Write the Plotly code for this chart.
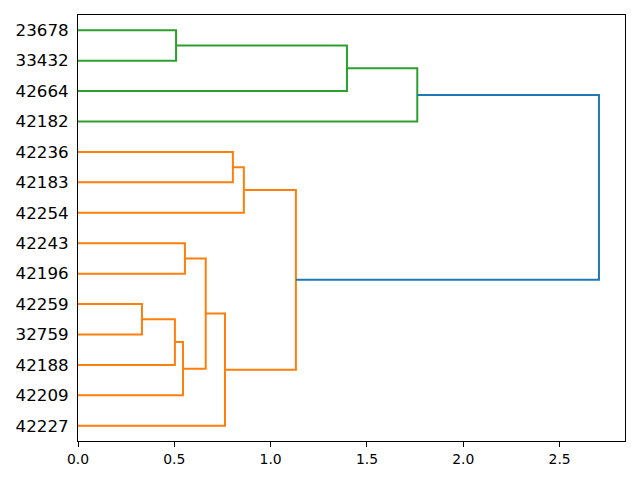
import plotly.graph_objects as go

# Leaf labels, top to bottom
leaf_labels = ["23678", "33432", "42664", "42182", "42236", "42183", "42254",
               "42243", "42196", "42259", "32759", "42188", "42209", "42227"]

# Merge list: children (leaf index or previous merge id = n_leaves + k), height, color
merge_left = [9, 14, 0, 15, 7, 18, 19, 4, 21, 22, 16, 24, 25]
merge_right = [10, 11, 1, 12, 8, 17, 13, 5, 6, 20, 2, 3, 23]
merge_height = [0.332, 0.503, 0.509, 0.545, 0.555, 0.663, 0.763,
                0.804, 0.861, 1.131, 1.396, 1.761, 2.704]
merge_color = ["#ff7f0e", "#ff7f0e", "#2ca02c", "#ff7f0e", "#ff7f0e", "#ff7f0e", "#ff7f0e",
               "#ff7f0e", "#ff7f0e", "#ff7f0e", "#2ca02c", "#2ca02c", "#1f77b4"]

x_ticks = [0.0, 0.5, 1.0, 1.5, 2.0, 2.5]

n = len(leaf_labels)
pos = {}
hgt = {}
for i in range(n):
    pos[i] = 10 * (n - 1 - i) + 5
    hgt[i] = 0.0

fig = go.Figure()
for k, (a, b, h, c) in enumerate(zip(merge_left, merge_right, merge_height, merge_color)):
    node = n + k
    xs = [hgt[a], h, h, hgt[b]]
    ys = [pos[a], pos[a], pos[b], pos[b]]
    fig.add_trace(go.Scatter(x=xs, y=ys, mode="lines",
                             line=dict(color=c, width=2),
                             hoverinfo="skip", showlegend=False))
    pos[node] = (pos[a] + pos[b]) / 2
    hgt[node] = h

xmax = max(merge_height) * 1.05

fig.update_layout(
    width=632, height=472,
    margin=dict(l=70, r=15, t=7, b=39),
    plot_bgcolor="white", paper_bgcolor="white",
    font=dict(family="DejaVu Sans", color="black"),
    showlegend=False,
)
fig.update_xaxes(
    range=[0, xmax], showgrid=False, zeroline=False, automargin=False,
    showline=True, linecolor="black", linewidth=1, mirror=True,
    ticks="outside", ticklen=5, tickwidth=1, tickcolor="black",
    tickvals=x_ticks, ticktext=[f"{v:.1f}" for v in x_ticks],
    tickfont=dict(size=13.9, family="DejaVu Sans", color="black"),
)
fig.update_yaxes(
    range=[0, 10 * n], showgrid=False, zeroline=False, automargin=False,
    showline=True, linecolor="black", linewidth=1, mirror=True,
    ticks="outside", ticklen=5, tickcolor="rgba(0,0,0,0)",
    tickvals=[10 * (n - 1 - i) + 5 for i in range(n)], ticktext=leaf_labels,
    tickfont=dict(size=16.7, family="DejaVu Sans", color="black"),
)

fig.write_html("out.html")
